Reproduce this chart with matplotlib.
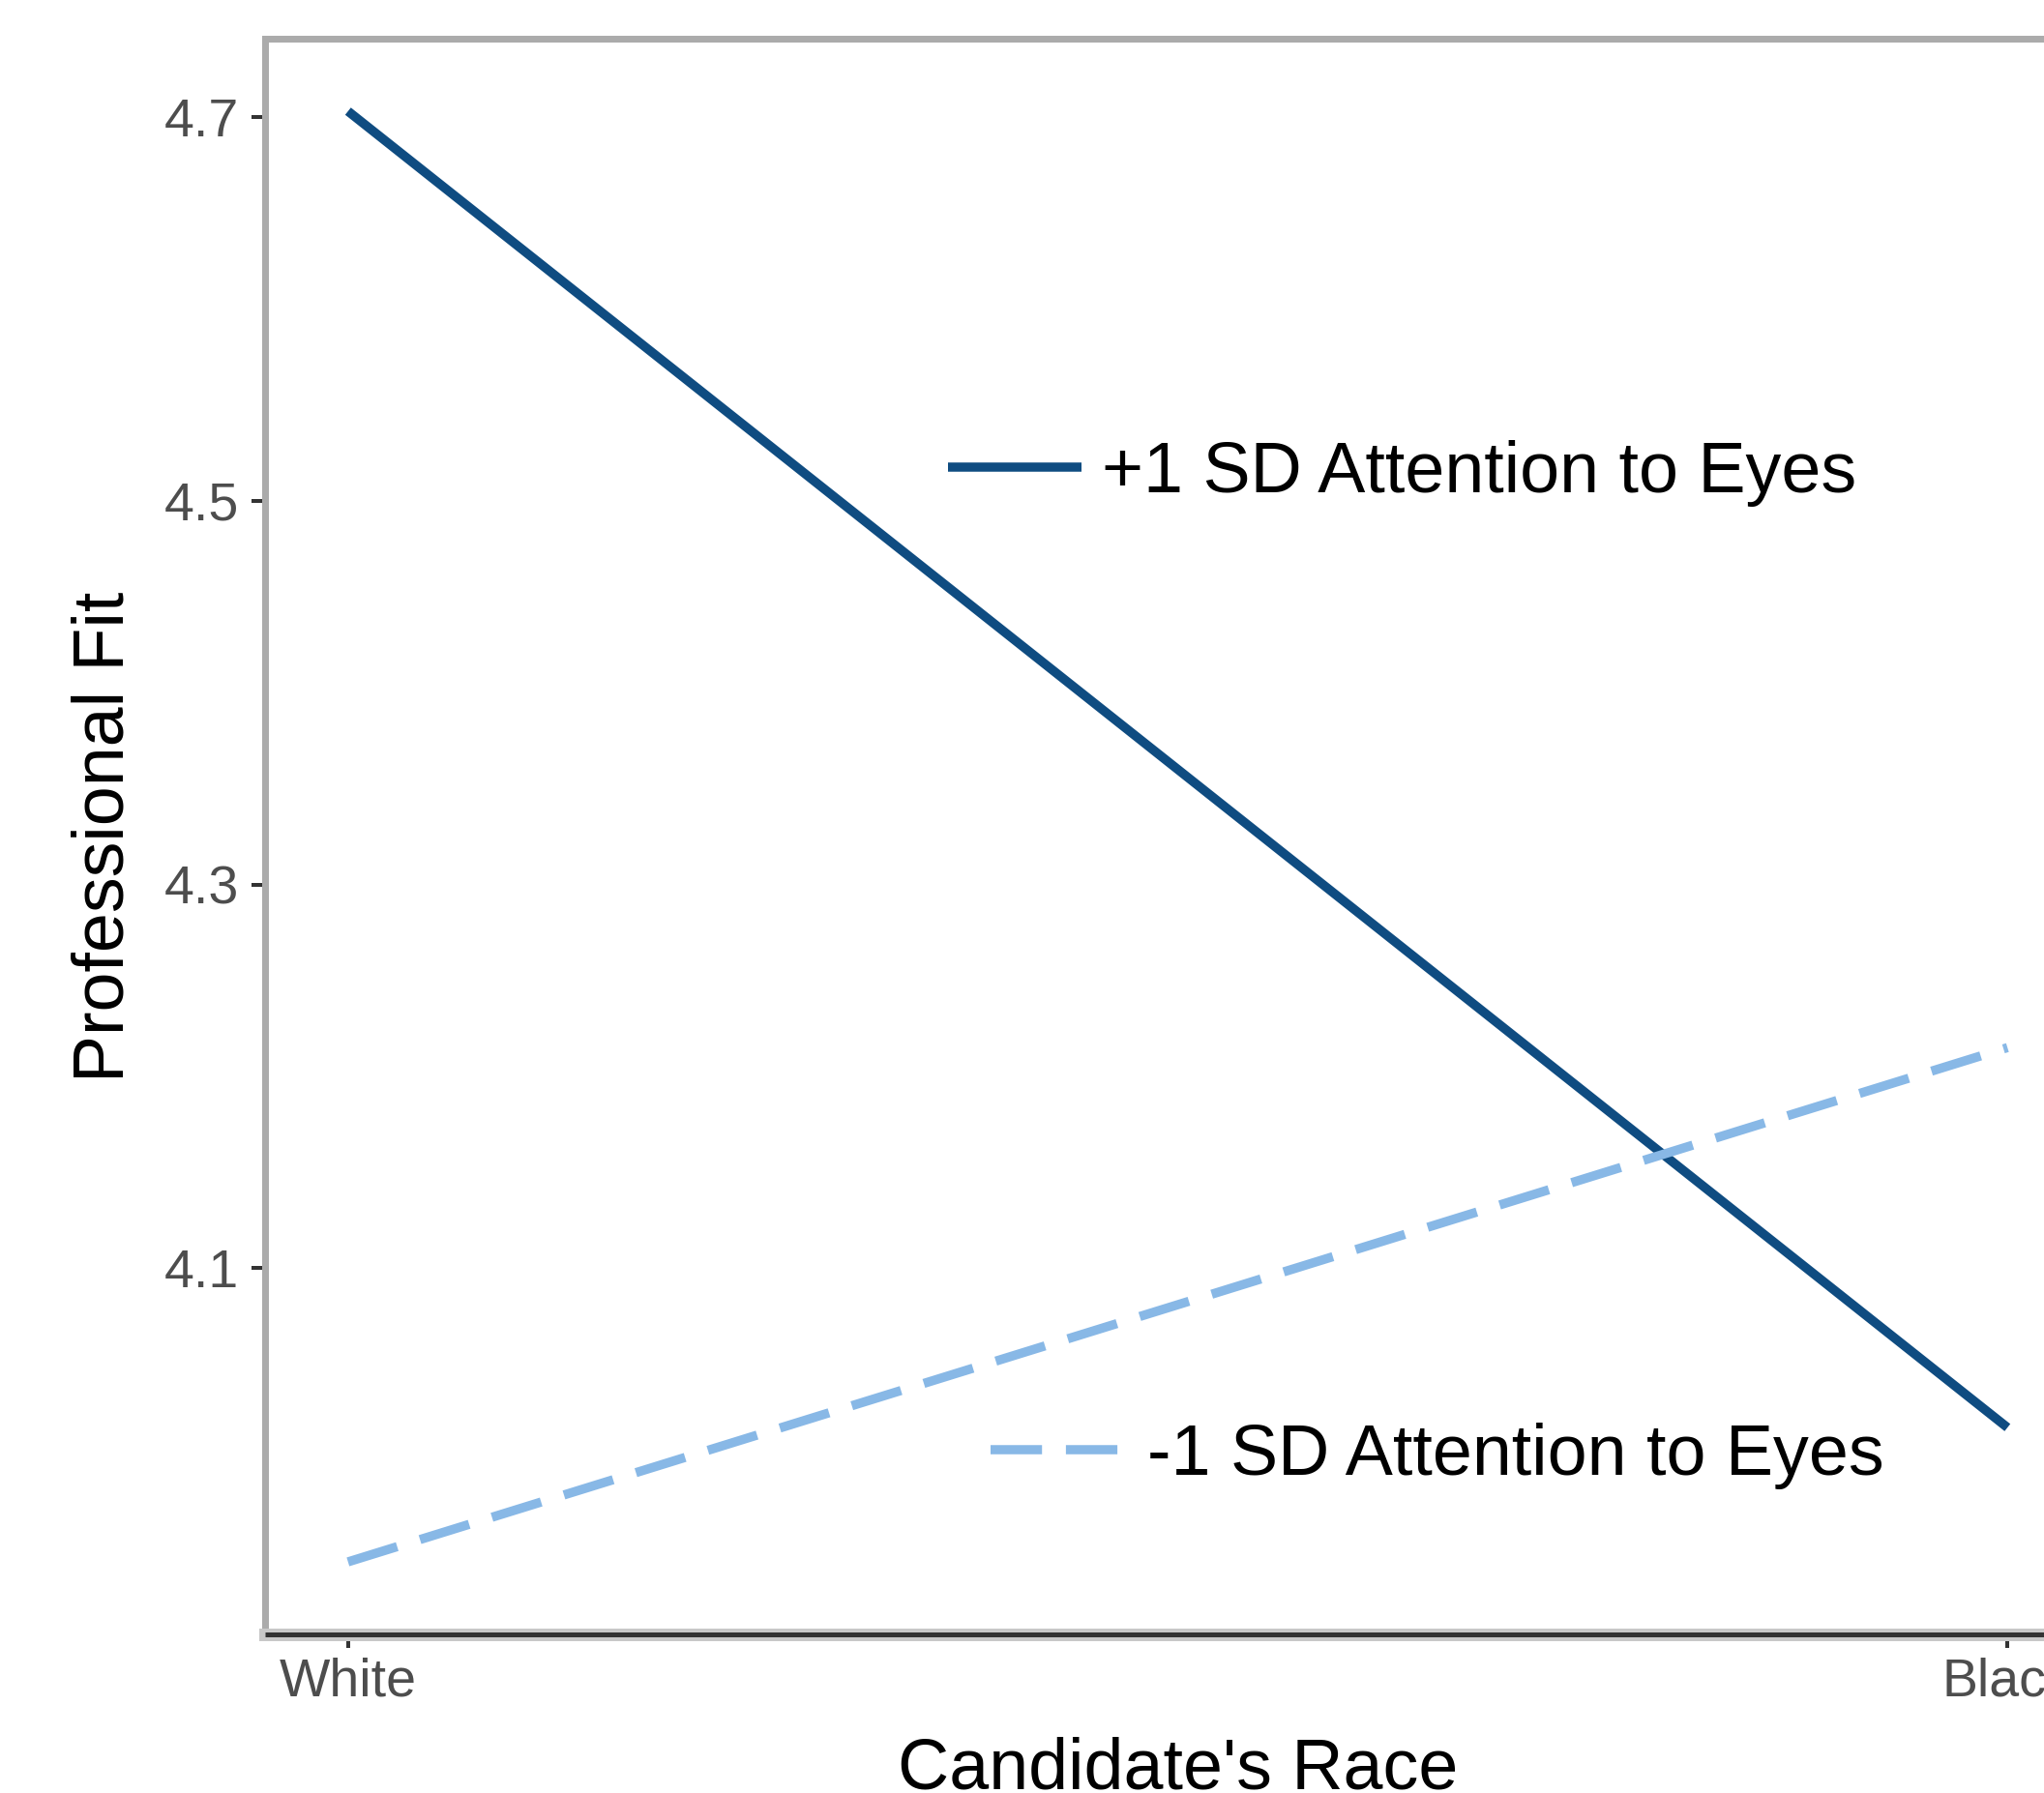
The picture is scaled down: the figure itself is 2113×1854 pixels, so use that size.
import matplotlib
matplotlib.use('Agg')
import matplotlib.pyplot as plt
from matplotlib.lines import Line2D

# ---- data ----
races = ["White", "Black"]
high_eyes = [4.703, 4.017]   # +1 SD Attention to Eyes
low_eyes = [3.947, 4.215]    # -1 SD Attention to Eyes
y_ticks = [4.1, 4.3, 4.5, 4.7]
y_tick_labels = ["4.1", "4.3", "4.5", "4.7"]
series_labels = ["+1 SD Attention to Eyes", "-1 SD Attention to Eyes"]
x_title = "Candidate's Race"
y_title = "Professional Fit"

plt.rcParams['font.family'] = ['Liberation Sans', 'DejaVu Sans']

W, H = 2113, 1854
DPI = 100
fig = plt.figure(figsize=(W / DPI, H / DPI), dpi=DPI)


def px(v):
    return v * 72.0 / DPI


left, right, top, bottom = 274, 2161, 40, 1690
ax = fig.add_axes([left / W, 1 - bottom / H, (right - left) / W, (bottom - top) / H])

xpos = list(range(len(races)))
l1, = ax.plot(xpos, high_eyes, color='#0F4C81', lw=px(9.5), solid_capstyle='butt')
l2, = ax.plot(xpos, low_eyes, color='#88B8E6', lw=px(9.5), dash_capstyle='butt')
l2.set_dashes([5.6, 2.6])
ax.margins(x=0.05, y=0.05)

ax.set_xticks(xpos, races)
ax.set_yticks(y_ticks, y_tick_labels)
ax.tick_params(axis='both', length=px(14), width=px(4), color='#333333',
               labelsize=40, labelcolor='#4D4D4D')
ax.tick_params(axis='y', pad=px(13))
ax.tick_params(axis='x', pad=px(9))

for s in ['top', 'left', 'right']:
    ax.spines[s].set_color('#ABABAB')
    ax.spines[s].set_linewidth(px(7))
ax.spines['bottom'].set_color('#C8C8C8')
ax.spines['bottom'].set_linewidth(px(13))
ax.add_artist(Line2D([0, 1], [0, 0], transform=ax.transAxes, color='#333333',
                     lw=px(5), solid_capstyle='butt', clip_on=False, zorder=3))

ax.set_xlabel(x_title, fontsize=53, color='black', va='baseline')
ax.xaxis.set_label_coords(0.5, -(1850 - bottom) / (bottom - top))
ax.set_ylabel(y_title, fontsize=53, color='black', va='baseline')
ax.yaxis.set_label_coords(-(left - 128) / (right - left), 0.5)

em = 53 * DPI / 72.0
leg1 = ax.legend([l1], [series_labels[0]], loc='center left',
                 bbox_to_anchor=(980 / W, 1 - 489 / H), bbox_transform=fig.transFigure,
                 frameon=False, fontsize=53, handlelength=138 / em,
                 handletextpad=21 / em, borderpad=0, borderaxespad=0)
ax.add_artist(leg1)
leg2 = ax.legend([l2], [series_labels[1]], loc='center left',
                 bbox_to_anchor=(1024 / W, 1 - 1505 / H), bbox_transform=fig.transFigure,
                 frameon=False, fontsize=53, handlelength=135 / em,
                 handletextpad=27 / em, borderpad=0, borderaxespad=0)

fig.savefig('out.png', dpi=DPI)
